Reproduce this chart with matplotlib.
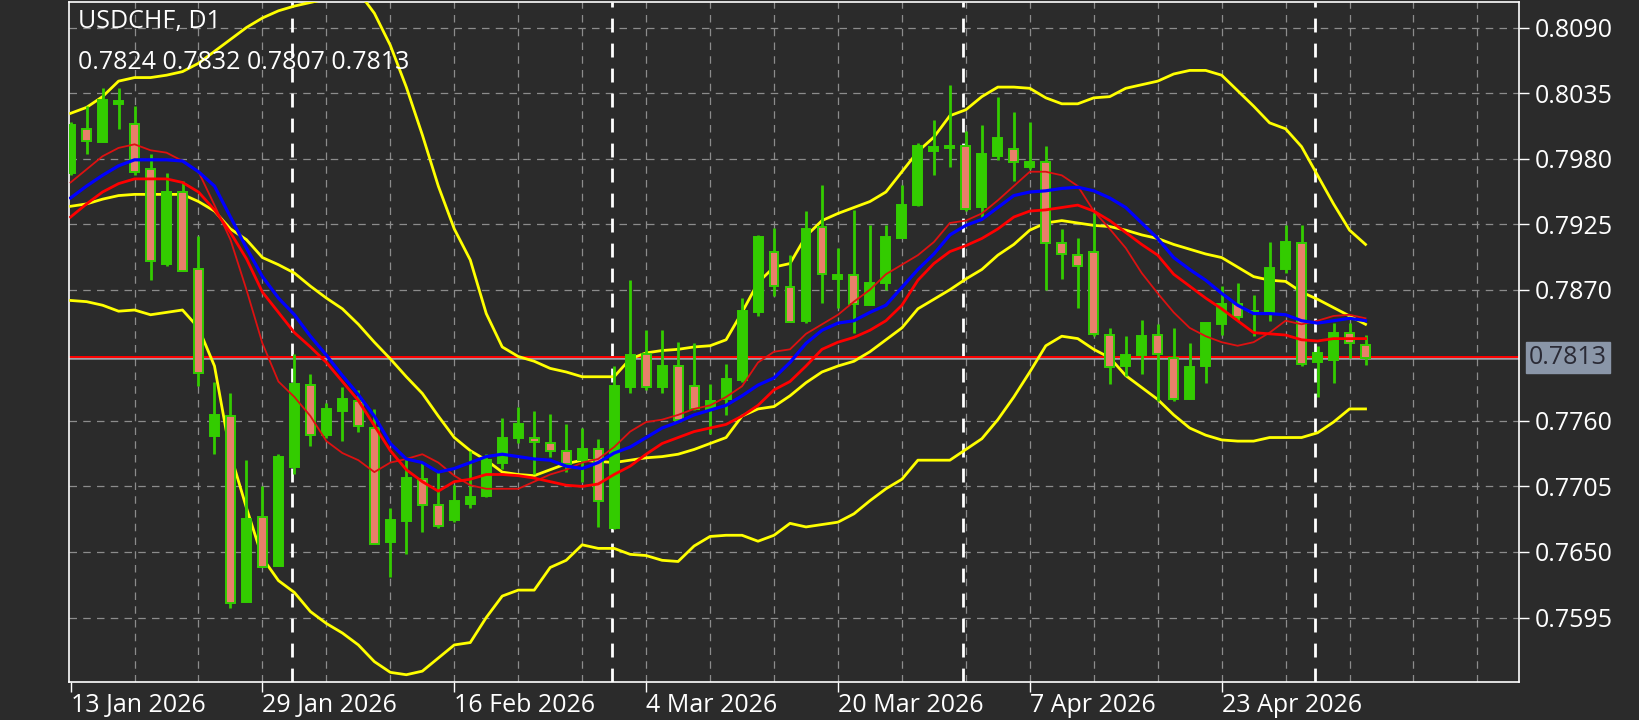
import matplotlib
matplotlib.use("Agg")
import matplotlib.pyplot as plt
import numpy as np

# daily candles, 13 Jan 2026 .. 6 May 2026 (bar index 0..81)
opens = [0.7968, 0.8005, 0.7994, 0.8026, 0.8009, 0.7971, 0.7892, 0.7952, 0.7887, 0.7747,
         0.7764, 0.7608, 0.7679, 0.7638, 0.7721, 0.7790, 0.7748, 0.7768, 0.7777, 0.7754,
         0.7658, 0.7676, 0.7711, 0.7689, 0.7677, 0.7690, 0.7697, 0.7725, 0.7746, 0.7746,
         0.7741, 0.7735, 0.7727, 0.7736, 0.7670, 0.7788, 0.7816, 0.7788, 0.7806, 0.7789,
         0.7770, 0.7778, 0.7794, 0.7851, 0.7902, 0.7872, 0.7844, 0.7923, 0.7879, 0.7882,
         0.7857, 0.7876, 0.7913, 0.7941, 0.7986, 0.7989, 0.7991, 0.7939, 0.7982, 0.7988,
         0.7973, 0.7977, 0.7909, 0.7899, 0.7902, 0.7832, 0.7806, 0.7815, 0.7832, 0.7813,
         0.7778, 0.7806, 0.7841, 0.7858, 0.7851, 0.7851, 0.7887, 0.7909, 0.7809, 0.7811,
         0.7834, 0.7824]
highs = [0.8011, 0.8024, 0.8039, 0.8039, 0.8024, 0.7984, 0.7968, 0.7961, 0.7915, 0.7793,
         0.7783, 0.7727, 0.7705, 0.7732, 0.7816, 0.7799, 0.7775, 0.7788, 0.7786, 0.7770,
         0.7687, 0.7728, 0.7725, 0.7717, 0.7706, 0.7735, 0.7732, 0.7762, 0.7772, 0.7768,
         0.7766, 0.7757, 0.7754, 0.7745, 0.7806, 0.7878, 0.7836, 0.7836, 0.7826, 0.7825,
         0.7791, 0.7808, 0.7863, 0.7916, 0.7922, 0.7899, 0.7936, 0.7958, 0.7905, 0.7937,
         0.7924, 0.7924, 0.7958, 0.7993, 0.8012, 0.8042, 0.8003, 0.8008, 0.8032, 0.8019,
         0.8011, 0.7991, 0.7921, 0.7913, 0.7934, 0.7838, 0.7831, 0.7845, 0.7841, 0.7838,
         0.7825, 0.7842, 0.7873, 0.7876, 0.7866, 0.7910, 0.7924, 0.7924, 0.7823, 0.7842,
         0.7842, 0.7832]
lows = [0.7966, 0.7984, 0.7994, 0.8005, 0.7966, 0.7878, 0.7890, 0.7886, 0.7789, 0.7732,
        0.7603, 0.7608, 0.7637, 0.7638, 0.7715, 0.7739, 0.7746, 0.7743, 0.7751, 0.7657,
        0.7629, 0.7648, 0.7667, 0.7670, 0.7675, 0.7687, 0.7696, 0.7720, 0.7741, 0.7715,
        0.7730, 0.7717, 0.7709, 0.7671, 0.7669, 0.7783, 0.7786, 0.7783, 0.7761, 0.7769,
        0.7749, 0.7765, 0.7793, 0.7848, 0.7865, 0.7843, 0.7842, 0.7859, 0.7855, 0.7834,
        0.7857, 0.7870, 0.7913, 0.7940, 0.7966, 0.7973, 0.7936, 0.7931, 0.7979, 0.7961,
        0.7971, 0.7870, 0.7879, 0.7855, 0.7831, 0.7791, 0.7798, 0.7799, 0.7777, 0.7777,
        0.7778, 0.7792, 0.7832, 0.7844, 0.7831, 0.7844, 0.7884, 0.7806, 0.7780, 0.7792,
        0.7813, 0.7807]
closes = [0.8008, 0.7995, 0.8029, 0.8028, 0.7969, 0.7894, 0.7952, 0.7886, 0.7800, 0.7765,
          0.7607, 0.7678, 0.7637, 0.7730, 0.7791, 0.7748, 0.7770, 0.7778, 0.7756, 0.7657,
          0.7677, 0.7712, 0.7689, 0.7672, 0.7693, 0.7696, 0.7727, 0.7746, 0.7757, 0.7742,
          0.7735, 0.7724, 0.7736, 0.7693, 0.7789, 0.7815, 0.7788, 0.7806, 0.7761, 0.7770,
          0.7777, 0.7795, 0.7852, 0.7914, 0.7873, 0.7843, 0.7921, 0.7883, 0.7882, 0.7858,
          0.7876, 0.7914, 0.7941, 0.7991, 0.7990, 0.7990, 0.7938, 0.7984, 0.7997, 0.7977,
          0.7977, 0.7909, 0.7900, 0.7890, 0.7833, 0.7805, 0.7815, 0.7831, 0.7816, 0.7778,
          0.7805, 0.7842, 0.7858, 0.7847, 0.7851, 0.7888, 0.7910, 0.7808, 0.7817, 0.7834,
          0.7825, 0.7813]

# indicator lines, one value per bar
bb_upper = [0.8018, 0.8023, 0.8032, 0.8045, 0.8048, 0.8048, 0.8050, 0.8053, 0.8060, 0.8070,
            0.8080, 0.8090, 0.8098, 0.8104, 0.8108, 0.8111, 0.8114, 0.8117, 0.8120, 0.8102,
            0.8075, 0.8040, 0.8000, 0.7957, 0.7921, 0.7895, 0.7850, 0.7822, 0.7814, 0.7810,
            0.7804, 0.7801, 0.7797, 0.7797, 0.7797, 0.7812, 0.7817, 0.7819, 0.7820, 0.7822,
            0.7823, 0.7828, 0.7851, 0.7876, 0.7889, 0.7892, 0.7915, 0.7928, 0.7934, 0.7939,
            0.7944, 0.7952, 0.7969, 0.7986, 0.7998, 0.8016, 0.8021, 0.8032, 0.8040, 0.8040,
            0.8039, 0.8031, 0.8026, 0.8026, 0.8031, 0.8032, 0.8039, 0.8042, 0.8045, 0.8051,
            0.8054, 0.8054, 0.8050, 0.8037, 0.8024, 0.8010, 0.8005, 0.7990, 0.7966, 0.7942,
            0.7920, 0.7908]
bb_mid = [0.7940, 0.7942, 0.7946, 0.7949, 0.7950, 0.7950, 0.7950, 0.7950, 0.7944, 0.7936,
          0.7921, 0.7912, 0.7897, 0.7891, 0.7884, 0.7873, 0.7863, 0.7854, 0.7841, 0.7826,
          0.7812, 0.7797, 0.7783, 0.7764, 0.7746, 0.7735, 0.7727, 0.7717, 0.7715, 0.7714,
          0.7719, 0.7724, 0.7727, 0.7726, 0.7725, 0.7727, 0.7729, 0.7730, 0.7732, 0.7736,
          0.7741, 0.7746, 0.7764, 0.7770, 0.7772, 0.7781, 0.7792, 0.7801, 0.7806, 0.7810,
          0.7818, 0.7828, 0.7838, 0.7854, 0.7862, 0.7870, 0.7879, 0.7887, 0.7899, 0.7908,
          0.7920, 0.7926, 0.7928, 0.7926, 0.7924, 0.7923, 0.7920, 0.7916, 0.7913, 0.7908,
          0.7904, 0.7900, 0.7897, 0.7889, 0.7881, 0.7878, 0.7877, 0.7868, 0.7862, 0.7855,
          0.7848, 0.7841]
bb_lower = [0.7861, 0.7860, 0.7857, 0.7852, 0.7853, 0.7849, 0.7851, 0.7853, 0.7838, 0.7806,
            0.7732, 0.7687, 0.7645, 0.7626, 0.7616, 0.7600, 0.7590, 0.7582, 0.7572, 0.7558,
            0.7549, 0.7547, 0.7550, 0.7561, 0.7572, 0.7574, 0.7595, 0.7613, 0.7618, 0.7618,
            0.7637, 0.7643, 0.7656, 0.7653, 0.7653, 0.7648, 0.7647, 0.7643, 0.7642, 0.7655,
            0.7663, 0.7664, 0.7664, 0.7659, 0.7664, 0.7674, 0.7671, 0.7673, 0.7675, 0.7682,
            0.7693, 0.7703, 0.7711, 0.7727, 0.7727, 0.7727, 0.7736, 0.7745, 0.7761, 0.7780,
            0.7801, 0.7823, 0.7831, 0.7829, 0.7820, 0.7813, 0.7798, 0.7788, 0.7778, 0.7765,
            0.7754, 0.7748, 0.7744, 0.7743, 0.7743, 0.7746, 0.7746, 0.7746, 0.7750, 0.7759,
            0.7770, 0.7770]
ma_blue = [0.7947, 0.7957, 0.7966, 0.7974, 0.7979, 0.7979, 0.7979, 0.7978, 0.7969, 0.7957,
           0.7931, 0.7905, 0.7881, 0.7863, 0.7849, 0.7831, 0.7815, 0.7798, 0.7782, 0.7764,
           0.7741, 0.7728, 0.7725, 0.7717, 0.7720, 0.7725, 0.7730, 0.7732, 0.7730, 0.7728,
           0.7727, 0.7722, 0.7720, 0.7725, 0.7733, 0.7738, 0.7746, 0.7754, 0.7759, 0.7765,
           0.7769, 0.7773, 0.7781, 0.7790, 0.7796, 0.7809, 0.7825, 0.7836, 0.7842, 0.7844,
           0.7851, 0.7857, 0.7872, 0.7887, 0.7900, 0.7916, 0.7924, 0.7929, 0.7939, 0.7949,
           0.7952, 0.7953, 0.7955, 0.7956, 0.7953, 0.7947, 0.7939, 0.7926, 0.7913, 0.7897,
           0.7887, 0.7878, 0.7867, 0.7857, 0.7850, 0.7850, 0.7849, 0.7844, 0.7842, 0.7844,
           0.7846, 0.7844]
ma_red = [0.7931, 0.7942, 0.7952, 0.7959, 0.7963, 0.7963, 0.7963, 0.7960, 0.7952, 0.7937,
          0.7918, 0.7896, 0.7868, 0.7851, 0.7834, 0.7822, 0.7809, 0.7793, 0.7777, 0.7756,
          0.7735, 0.7719, 0.7709, 0.7701, 0.7709, 0.7711, 0.7715, 0.7715, 0.7714, 0.7712,
          0.7709, 0.7706, 0.7705, 0.7707, 0.7715, 0.7722, 0.7732, 0.7741, 0.7746, 0.7751,
          0.7754, 0.7757, 0.7764, 0.7773, 0.7786, 0.7793, 0.7806, 0.7820, 0.7826, 0.7830,
          0.7836, 0.7844, 0.7857, 0.7878, 0.7892, 0.7902, 0.7907, 0.7913, 0.7921, 0.7931,
          0.7936, 0.7937, 0.7939, 0.7941, 0.7936, 0.7928, 0.7918, 0.7908, 0.7899, 0.7883,
          0.7873, 0.7863, 0.7854, 0.7844, 0.7834, 0.7833, 0.7832, 0.7828, 0.7827, 0.7829,
          0.7829, 0.7829]
ma_fast = [0.7960, 0.7971, 0.7982, 0.7989, 0.7992, 0.7987, 0.7985, 0.7978, 0.7969, 0.7941,
           0.7912, 0.7870, 0.7825, 0.7793, 0.7780, 0.7764, 0.7743, 0.7733, 0.7727, 0.7717,
           0.7725, 0.7728, 0.7732, 0.7725, 0.7714, 0.7706, 0.7703, 0.7703, 0.7703, 0.7709,
           0.7715, 0.7719, 0.7725, 0.7728, 0.7738, 0.7751, 0.7759, 0.7761, 0.7765, 0.7770,
           0.7773, 0.7780, 0.7789, 0.7809, 0.7818, 0.7820, 0.7833, 0.7841, 0.7849, 0.7860,
           0.7870, 0.7883, 0.7891, 0.7899, 0.7910, 0.7926, 0.7928, 0.7934, 0.7945, 0.7957,
           0.7969, 0.7969, 0.7966, 0.7957, 0.7936, 0.7921, 0.7905, 0.7884, 0.7867, 0.7851,
           0.7838, 0.7831, 0.7826, 0.7823, 0.7826, 0.7834, 0.7844, 0.7841, 0.7844, 0.7848,
           0.7849, 0.7846]

price_ticks = [0.7595, 0.7650, 0.7705, 0.7760, 0.7870, 0.7925, 0.7980, 0.8035, 0.8090]
date_ticks = [0, 12, 24, 36, 48, 60, 72]
date_labels = ["13 Jan 2026", "29 Jan 2026", "16 Feb 2026", "4 Mar 2026",
               "20 Mar 2026", "7 Apr 2026", "23 Apr 2026"]
month_starts = [14, 34, 56, 78]
symbol = "USDCHF, D1"
last_price = closes[-1]

BG = "#2b2b2b"
BULL = "#33cc00"
BEAR = "#e8806a"

plt.rcParams["font.family"] = ["Open Sans", "DejaVu Sans"]
fig = plt.figure(figsize=(16.4, 7.2), dpi=100, facecolor=BG)
ax = fig.add_axes([69 / 1640, 1 - 682 / 720, 1450 / 1640, 680 / 720])
ax.set_facecolor(BG)

x = np.arange(len(opens))
ax.set_xlim(-0.1, 90.6)
ax.set_ylim(0.75409, 0.81114)

# grid
for gx in np.arange(4, 91, 4):
    ax.axvline(gx, color="#8c8c8c", lw=0.9, ls=(0, (6, 5)), zorder=0)
for p in price_ticks:
    ax.axhline(p, color="#8c8c8c", lw=0.9, ls=(0, (6, 5)), zorder=0)
for m in month_starts:
    ax.axvline(m - 0.15, color="white", lw=2, ls=(0, (5, 4)), zorder=1)

# current price line
ax.axhline(last_price - 0.00004, color="#a0a0a8", lw=1.8, zorder=2)
ax.axhline(last_price + 0.00005, color="#ff0000", lw=1.4, zorder=2)

# indicators
ax.plot(x, bb_upper, color="#ffff00", lw=2, zorder=3)
ax.plot(x, bb_mid, color="#ffff00", lw=2, zorder=3)
ax.plot(x, bb_lower, color="#ffff00", lw=2, zorder=3)

# candles
bw = 0.56
for i in x:
    o, h, l, c = opens[i], highs[i], lows[i], closes[i]
    ax.vlines(i, l, h, color=BULL, lw=2, zorder=4)
    lo, hi = min(o, c), max(o, c)
    ax.add_patch(plt.Rectangle((i - bw / 2, lo), bw, max(hi - lo, 0.00012),
                               facecolor=BULL if c >= o else BEAR,
                               edgecolor=BULL, lw=1.4, zorder=5))

ax.plot(x, ma_fast, color="#dd1111", lw=1.3, zorder=6)
ax.plot(x, ma_red, color="#ff0000", lw=2, zorder=6)
ax.plot(x, ma_blue, color="#0000ff", lw=2.3, zorder=6)

# axes styling
for s in ax.spines.values():
    s.set_color("white")
    s.set_linewidth(1.2)
ax.yaxis.tick_right()
ax.set_yticks(price_ticks)
ax.set_yticklabels([f"{p:.4f}" for p in price_ticks])
ax.set_xticks(date_ticks)
ax.set_xticklabels(date_labels, ha="left")
ax.tick_params(axis="both", colors="white", length=7, width=1)
ax.tick_params(axis="y", pad=4, labelsize=18)
ax.tick_params(axis="x", pad=1, labelsize=18)

ax.text(0.006, 0.99, symbol, transform=ax.transAxes, color="white",
        fontsize=18, va="top", ha="left")
ax.text(0.006, 0.93, f"{opens[-1]:.4f} {highs[-1]:.4f} {lows[-1]:.4f} {closes[-1]:.4f}",
        transform=ax.transAxes, color="white", fontsize=18, va="top", ha="left")

# last price label on the scale
ax.annotate(f"{last_price:.4f}", xy=(1.0, last_price), xycoords=("axes fraction", "data"),
            xytext=(7, 0), textcoords="offset points", va="center", ha="left",
            color="#2a2a35", fontsize=18,
            bbox=dict(boxstyle="square,pad=0.12", facecolor="#8a96a8", edgecolor="#8a96a8"))

fig.savefig("out.png", dpi=100, facecolor=BG)
